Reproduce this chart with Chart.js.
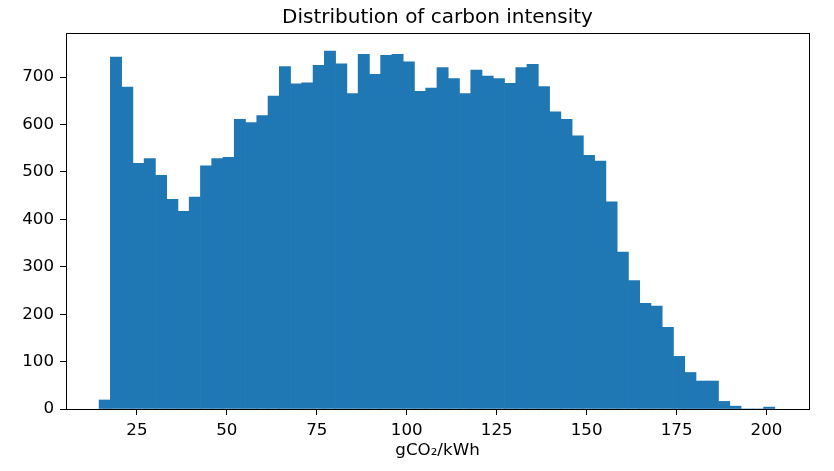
<!DOCTYPE html>
<html>
<head>
<meta charset="utf-8">
<script src="https://cdn.jsdelivr.net/npm/chart.js@4/dist/chart.umd.min.js"></script>
<style>
    html, body { margin: 0; padding: 0; background: #fff; }
    canvas { display: block; }
</style>
</head>
<body>
<canvas id="histChart" width="834" height="471"></canvas>
<script>
// Histogram data (60 bins)
const binStart = 14.5;
const binWidth = 3.13;
const counts = [
    19, 742, 679, 518, 528, 493, 442, 417, 447, 513,
    528, 531, 611, 604, 619, 660, 722, 686, 688, 725,
    755, 728, 665, 748, 706, 746, 748, 732, 670, 677,
    720, 697, 665, 715, 702, 697, 687, 720, 727, 680,
    627, 611, 576, 535, 523, 437, 331, 271, 223, 217,
    172, 111, 77, 59, 59, 16, 6, 0, 0, 4
];
const xTicks = [25, 50, 75, 100, 125, 150, 175, 200];
const yTicks = [0, 100, 200, 300, 400, 500, 600, 700];

const points = counts.map((c, i) => ({ x: binStart + binWidth * (i + 0.5), y: c }));

const font = { family: 'DejaVu Sans', size: 16.7 };

// draw the full axes box like matplotlib
const frame = {
    id: 'frame',
    afterDatasetsDraw(chart) {
        const { ctx, chartArea: a } = chart;
        ctx.save();
        ctx.strokeStyle = '#000';
        ctx.lineWidth = 1;
        ctx.strokeRect(Math.round(a.left) + 0.5, Math.round(a.top) + 0.5,
            Math.round(a.right - a.left), Math.round(a.bottom - a.top));
        ctx.restore();
    }
};

new Chart(document.getElementById('histChart').getContext('2d'), {
    type: 'bar',
    data: {
        datasets: [{
            data: points,
            backgroundColor: '#1f77b4',
            borderWidth: 0,
            barPercentage: 1,
            categoryPercentage: 1
        }]
    },
    options: {
        responsive: false,
        animation: false,
        layout: { padding: { right: 25, left: 0, top: 0, bottom: 0 } },
        plugins: {
            legend: { display: false },
            tooltip: { enabled: false },
            title: {
                display: true,
                fullSize: false,
                text: 'Distribution of carbon intensity',
                color: '#000',
                font: { family: 'DejaVu Sans', size: 20, weight: 'normal' },
                padding: { top: 6, bottom: 3 }
            }
        },
        scales: {
            x: {
                type: 'linear',
                min: 5.3,
                max: 211.8,
                offset: false,
                afterBuildTicks: axis => { axis.ticks = xTicks.map(v => ({ value: v })); },
                afterFit: s => { s.height = 62; },
                border: { display: false },
                grid: { offset: false, drawOnChartArea: false, drawTicks: true, tickLength: 6, color: '#000' },
                ticks: { color: '#000', font: font, padding: 6, maxRotation: 0 },
                title: { display: true, text: 'gCO\u2082/kWh', color: '#000', font: font, padding: { top: 0, bottom: 10 } }
            },
            y: {
                min: 0,
                max: 793,
                afterBuildTicks: axis => { axis.ticks = yTicks.map(v => ({ value: v })); },
                afterFit: s => { s.width = 66; },
                border: { display: false },
                grid: { drawOnChartArea: false, drawTicks: true, tickLength: 6, color: '#000' },
                ticks: { color: '#000', font: font, padding: 6 }
            }
        }
    },
    plugins: [frame]
});
</script>
</body>
</html>
